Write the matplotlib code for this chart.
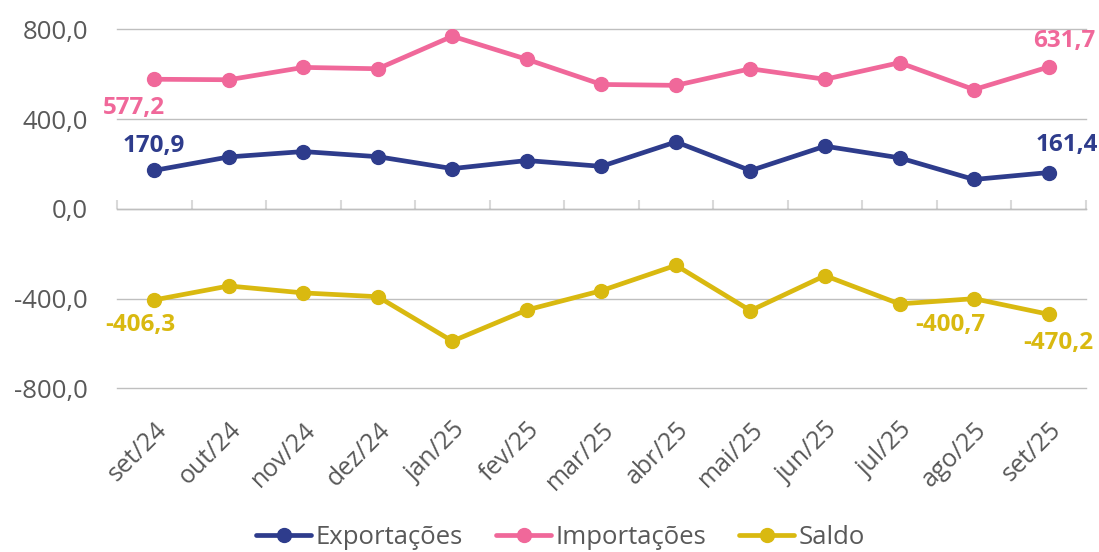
import matplotlib
matplotlib.use("Agg")
import matplotlib.pyplot as plt
import numpy as np

meses = ["set/24", "out/24", "nov/24", "dez/24", "jan/25", "fev/25", "mar/25",
         "abr/25", "mai/25", "jun/25", "jul/25", "ago/25", "set/25"]
exportacoes = [170.9, 231, 255, 232, 179, 215, 189, 298, 170, 279, 227, 130.5, 161.4]
importacoes = [577.2, 575, 630, 624, 769, 666, 554, 550, 624, 577, 651, 531.2, 631.7]
saldo = [-406.3, -344, -375, -392, -590, -451, -365, -252, -454, -298, -424, -400.7, -470.2]

cor_exp = "#2E3C8C"
cor_imp = "#F0689A"
cor_sal = "#D9B910"
cinza = "#595959"

plt.rcParams["font.family"] = ["Open Sans", "DejaVu Sans"]

fig = plt.figure(figsize=(10.99, 5.52), dpi=100)
ax = fig.add_axes([0.1065, 0.2966, 0.8815, 0.6504])

x = np.arange(len(meses))
series = [("Exportações", exportacoes, cor_exp),
          ("Importações", importacoes, cor_imp),
          ("Saldo", saldo, cor_sal)]
for nome, vals, cor in series:
    ax.plot(x, vals, color=cor, lw=3.4, marker="o", ms=10, label=nome,
            solid_capstyle="round", zorder=3)

ax.set_xlim(-0.5, len(meses) - 0.5)
ax.set_ylim(-800, 800)
ax.set_yticks([-800, -400, 0, 400, 800])
ax.set_yticklabels(["-800,0", "-400,0", "0,0", "400,0", "800,0"])
ax.yaxis.grid(True, color="#BFBFBF", lw=1)
for gl in ax.get_ygridlines():
    gl.set_clip_on(False)
ax.set_axisbelow(True)
for s in ax.spines.values():
    s.set_visible(False)
ax.tick_params(axis="y", length=0, pad=21, labelsize=18.5, labelcolor=cinza)

ax.set_xticks(x)
ax.set_xticklabels(meses, rotation=45, ha="right", rotation_mode="anchor")
ax.tick_params(axis="x", length=0, pad=21, labelsize=18, labelcolor=cinza)

# eixo de categorias na linha do zero
sec = ax.secondary_xaxis(0.5)
sec.set_xticks(np.arange(-0.5, len(meses), 1.0))
sec.set_xticklabels([])
sec.spines["bottom"].set_color("#D9D9D9")
sec.spines["bottom"].set_linewidth(2)
sec.tick_params(axis="x", direction="out", length=6.5, width=1.5, color="#D9D9D9")

def rotulo(i, vals, cor, dx, dy):
    txt = f"{vals[i]:.1f}".replace(".", ",")
    ax.annotate(txt, (x[i], vals[i]), xytext=(dx, dy), textcoords="offset pixels",
                ha="center", va="center", fontsize=17.5, fontweight="bold",
                color=cor, annotation_clip=False)

rotulo(0, exportacoes, cor_exp, -1, 24)
rotulo(12, exportacoes, cor_exp, 18, 28)
rotulo(0, importacoes, cor_imp, -20, -29)
rotulo(12, importacoes, cor_imp, 16, 26)
rotulo(0, saldo, cor_sal, -14, -25)
rotulo(11, saldo, cor_sal, -24, -26)
rotulo(12, saldo, cor_sal, 10, -29)

fig.legend(loc="center", bbox_to_anchor=(0.51, 0.027), ncol=3, frameon=False,
           fontsize=18.5, labelcolor=cinza, handlelength=2.15, handletextpad=0.15,
           columnspacing=1.3)

fig.savefig("out.png", dpi=100)
